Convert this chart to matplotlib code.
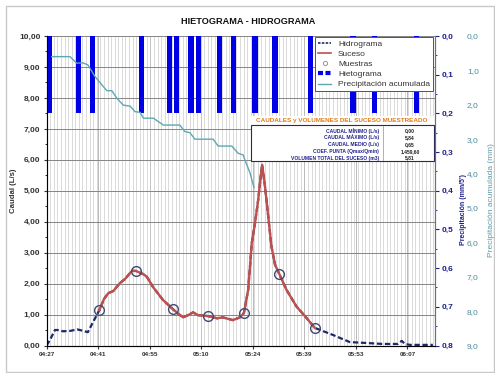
"""Hietograma - hidrograma de un suceso muestreado."""
import matplotlib
matplotlib.use("Agg")
import matplotlib.pyplot as plt
import numpy as np
from matplotlib.lines import Line2D
from matplotlib.patches import Rectangle
from matplotlib.ticker import FixedLocator, MultipleLocator, FuncFormatter

plt.rcParams["font.family"] = ["Liberation Sans", "DejaVu Sans"]

# minutos desde las 04:27
flow_min = [0.0, 1.0, 2.3, 3.4, 4.5, 6.5, 8.5, 10.0, 11.5, 12.7, 14.7, 16.0, 17.2, 18.6,
            20.5, 21.9, 23.8, 24.9, 26.9, 28.0, 29.7, 32.5, 35.3, 36.8, 38.1, 39.5, 40.9,
            42.3, 43.5, 45.1, 47.6, 49.2, 52.0, 54.0, 55.1, 56.3, 56.8, 57.3, 58.2, 59.1,
            59.8, 60.2, 61.0, 61.9, 62.8, 63.8, 65.0, 67.0, 69.8, 72.6, 74.9, 80.0, 84.7,
            89.5, 93.9, 98.1, 99.2, 100.1, 101.5, 107.9]
flow_ls = [0.00, 0.20, 0.50, 0.50, 0.46, 0.47, 0.52, 0.48, 0.43, 0.70, 1.14, 1.50, 1.69, 1.76,
           2.02, 2.15, 2.41, 2.41, 2.31, 2.22, 1.89, 1.47, 1.17, 1.02, 0.91, 0.98, 1.07,
           0.98, 0.97, 0.95, 0.88, 0.91, 0.82, 0.91, 1.05, 1.80, 2.55, 3.31, 3.95, 4.71,
           5.46, 5.84, 5.14, 4.17, 3.20, 2.61, 2.31, 1.80, 1.26, 0.89, 0.57, 0.34, 0.11,
           0.08, 0.05, 0.05, 0.15, 0.05, 0.02, 0.02]

sample_min = [14.7, 24.9, 35.3, 45.1, 55.1, 65.0, 74.9]
sample_ls = [1.14, 2.41, 1.17, 0.95, 1.05, 2.31, 0.57]

rain_min = [0.9, 8.8, 12.8, 26.5, 34.4, 36.3, 40.3, 42.3, 48.2, 52.1, 58.2, 63.8, 73.8,
            85.6, 91.7, 103.4]
rain_mm = [0.2] * len(rain_min)

acum_min = [1.4, 6.5, 8.4, 10.1, 11.5, 13.5, 15.4, 16.8, 18.2, 19.6, 21.4, 23.3, 24.7, 26.1,
            27.0, 29.8, 32.6, 37.2, 38.6, 40.0, 41.4, 46.5, 47.9, 51.7, 53.5, 54.9, 55.4,
            56.8, 57.9]
acum_mm = [0.60, 0.60, 0.79, 0.78, 0.84, 1.18, 1.42, 1.59, 1.59, 1.81, 2.01, 2.04, 2.20, 2.22,
           2.39, 2.39, 2.59, 2.59, 2.78, 2.81, 3.00, 3.00, 3.20, 3.20, 3.41, 3.46, 3.61,
           3.98, 4.40]

x_ticks = [0.0, 14.4, 28.8, 43.2, 57.6, 72.0, 86.4, 100.8]
x_labels = ["04:27", "04:41", "04:55", "05:10", "05:24", "05:39", "05:53", "06:07"]

table_labels = ["CAUDAL MÍNIMO (L/s)", "CAUDAL MÁXIMO (L/s)", "CAUDAL MEDIO (L/s)",
                "COEF. PUNTA (Qmax/Qmin)", "VOLUMEN TOTAL DEL SUCESO (m3)"]
table_values = ["0,00", "5,84", "0,65", "1.459,60", "5,81"]

NAVY = "#1E2A66"
RED = "#C0504D"
BLUE = "#0000E6"
TEAL = "#5AA9B2"
TXT = "#333333"
LBLUE = "#20208C"

W, H = 495, 373


def px(x, y):
    return x / W, 1 - y / H


def comma(fmt):
    return FuncFormatter(lambda v, _: fmt.format(v).replace(".", ","))


fig = plt.figure(figsize=(W / 100, H / 100), dpi=100)
fig.patches.append(Rectangle(px(6, 372), 488 / W, 366 / H, transform=fig.transFigure,
                             fill=False, edgecolor="#c8c8c8", linewidth=1.0))

l, t = px(46.7, 36)
r, b = px(435, 345.5)
ax = fig.add_axes([l, b, r - l, t - b])

# hidrograma completo y suceso
ax.plot(flow_min, flow_ls, color=NAVY, linewidth=1.6, linestyle=(0, (2.4, 1.2)), zorder=3)
fm = np.array(flow_min)
ev = (fm >= sample_min[0]) & (fm <= sample_min[-1])
ax.plot(fm[ev], np.array(flow_ls)[ev], color=RED, linewidth=1.7, zorder=4)
ax.plot(sample_min, sample_ls, "o", markersize=7, markerfacecolor="none",
        markeredgecolor="#3E4A70", markeredgewidth=1.0, zorder=5)

ax.set_xlim(0, 108.5)
ax.set_ylim(0, 10)
ax.xaxis.set_major_locator(FixedLocator(x_ticks))
ax.set_xticklabels(x_labels)
ax.xaxis.set_minor_locator(MultipleLocator(1.0))
ax.yaxis.set_major_locator(MultipleLocator(1.0))
ax.yaxis.set_minor_locator(MultipleLocator(0.5))
ax.yaxis.set_major_formatter(comma("{:.2f}"))
ax.grid(True, which="minor", axis="x", color="#cccccc", linewidth=0.5)
ax.grid(True, which="major", axis="x", color="#b0b0b0", linewidth=0.6)
ax.grid(True, which="major", axis="y", color="#858585", linewidth=0.7)
ax.set_axisbelow(True)
ax.tick_params(axis="x", which="major", length=2, pad=3, labelsize=4.6, colors=TXT)
ax.tick_params(axis="x", which="minor", length=0)
ax.tick_params(axis="y", which="major", length=2.5, pad=2, labelsize=6, colors=TXT)
ax.tick_params(axis="y", which="minor", length=1.5)
for lab in ax.get_xticklabels() + ax.get_yticklabels():
    lab.set_fontweight("bold")
ax.set_ylabel("Caudal (L/s)", fontsize=5.6, fontweight="bold", color=TXT)
ax.yaxis.set_label_coords(-0.0765, 0.5)
ax.spines["top"].set_visible(False)
for s in ("left", "bottom", "right"):
    ax.spines[s].set_color("#707070")
    ax.spines[s].set_linewidth(0.8)

# hietograma (eje derecho interior)
axp = ax.twinx()
axp.bar(rain_min, rain_mm, width=1.44, color=BLUE, zorder=2)
axp.set_ylim(0.8, 0)
axp.yaxis.set_major_locator(MultipleLocator(0.1))
axp.yaxis.set_minor_locator(MultipleLocator(0.05))
axp.yaxis.set_major_formatter(comma("{:.1f}"))
axp.tick_params(axis="y", which="major", length=3, pad=2, labelsize=6, colors=LBLUE)
axp.tick_params(axis="y", which="minor", length=1.5, color=LBLUE)
for lab in axp.get_yticklabels():
    lab.set_fontweight("bold")
axp.set_ylabel("Precipitación (mm/5')", fontsize=5, fontweight="bold", color=LBLUE)
axp.yaxis.set_label_coords(1.065, 0.44)
axp.spines["top"].set_visible(False)
axp.spines["right"].set_color("#707070")

# precipitación acumulada (eje derecho exterior)
axa = ax.twinx()
axa.plot(acum_min, acum_mm, color=TEAL, linewidth=1.0)
axa.set_ylim(9, 0)
axa.yaxis.set_major_locator(MultipleLocator(1.0))
axa.yaxis.set_major_formatter(comma("{:.1f}"))
axa.tick_params(axis="y", length=0, pad=23, labelsize=6, colors="#4A8C99")
axa.set_ylabel("Precipitación acumulada (mm)", fontsize=6, color="#5A9DAA")
axa.yaxis.set_label_coords(1.137, 0.47)
for s in axa.spines.values():
    s.set_visible(False)

fig.text(*px(248, 22), "HIETOGRAMA - HIDROGRAMA", fontsize=6.6, fontweight="bold",
         color="#111111", ha="center", va="center")

handles = [
    Line2D([], [], color=NAVY, linewidth=1.2, linestyle=(0, (1.5, 0.8))),
    Line2D([], [], color=RED, linewidth=1.2),
    Line2D([], [], marker="o", linestyle="none", markersize=3, markerfacecolor="none",
           markeredgecolor="#888888", markeredgewidth=0.6),
    Line2D([], [], color=BLUE, linewidth=3, linestyle=(0, (1.2, 0.6))),
    Line2D([], [], color=TEAL, linewidth=1.0),
]
leg = fig.legend(handles, ["Hidrograma", "Suceso", "Muestras", "Hietograma",
                           "Precipitación acumulada"],
                 loc="upper right", bbox_to_anchor=px(433, 37), fontsize=6,
                 frameon=True, fancybox=False, framealpha=1, edgecolor="#555555",
                 handlelength=1.6, handletextpad=0.8, labelspacing=0.28,
                 borderpad=0.35, borderaxespad=0)
leg.get_frame().set_linewidth(0.7)
for txt in leg.get_texts():
    txt.set_color(TXT)

# tabla de caudales
fig.patches.append(Rectangle(px(251, 125), 183 / W, 9 / H, transform=fig.transFigure,
                             facecolor="white", edgecolor="none", zorder=2))
fig.text(*px(342, 120.5), "CAUDALES y VOLUMENES DEL SUCESO MUESTREADO", fontsize=4.6,
         fontweight="bold", color="#E07B1A", ha="center", va="center", zorder=3)
fig.patches.append(Rectangle(px(251, 161), 183 / W, 36 / H, transform=fig.transFigure,
                             facecolor="white", edgecolor="#2A2A5A", linewidth=0.8, zorder=2))
fig.lines.append(Line2D([383 / W, 383 / W], [1 - 126 / H, 1 - 160 / H],
                        transform=fig.transFigure, color="#9090A0", linewidth=0.5, zorder=3))
for i, (lab, val) in enumerate(zip(table_labels, table_values)):
    yy = 130.5 + i * 6.9
    fig.text(*px(379, yy), lab, fontsize=3.6, fontweight="bold", color=LBLUE,
             ha="right", va="center", zorder=3)
    fig.text(*px(410, yy), val, fontsize=3.6, fontweight="bold", color="#222222",
             ha="center", va="center", zorder=3)

fig.savefig("out.png", dpi=100, facecolor="white")
